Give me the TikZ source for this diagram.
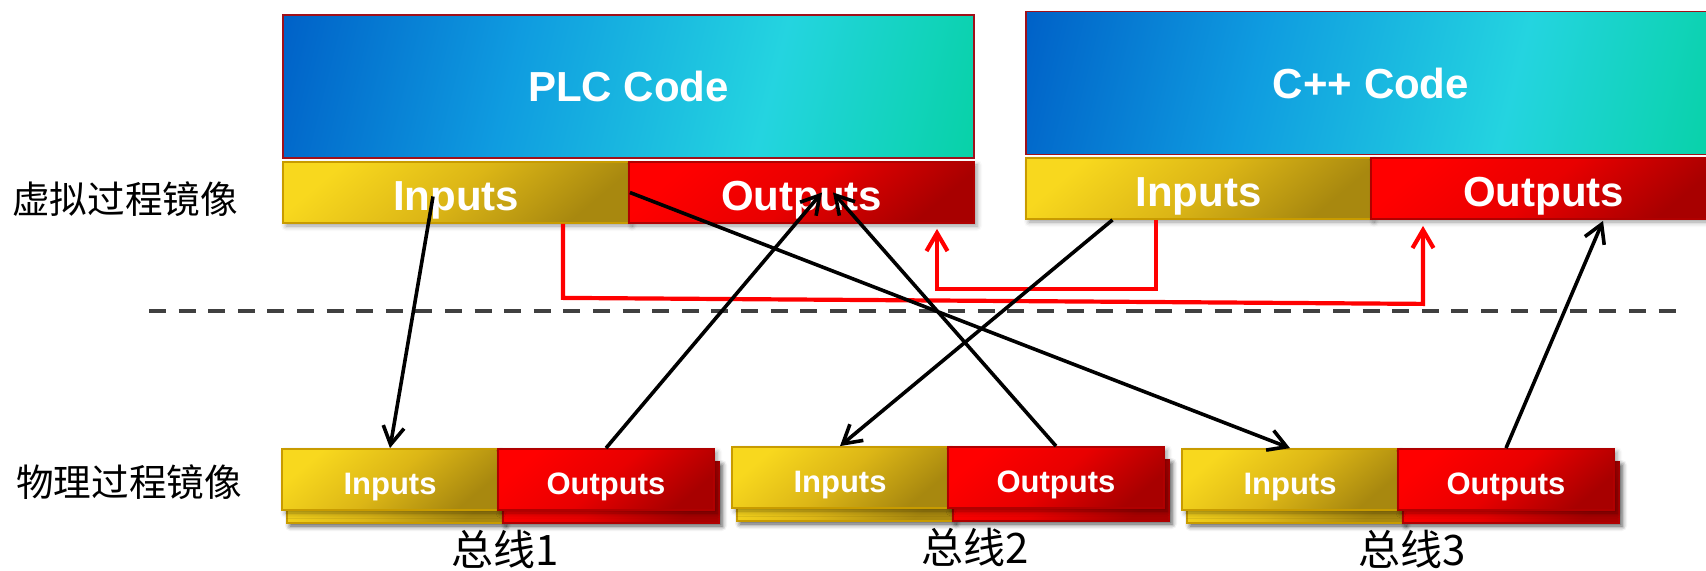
\documentclass[tikz,border=0pt]{standalone}
\usepackage{fontspec}
\setmainfont{Liberation Sans}
\newfontfamily\cjk{Noto Sans CJK SC}
\usetikzlibrary{arrows.meta,shadows.blur,calc}

\definecolor{codeA}{HTML}{0062C8}
\definecolor{codeB}{HTML}{0F9CE0}
\definecolor{codeC}{HTML}{24D4E0}
\definecolor{codeD}{HTML}{08D2A8}
\definecolor{codeline}{HTML}{A0101A}
\definecolor{inA}{HTML}{F8D81E}
\definecolor{inB}{HTML}{DCB616}
\definecolor{inC}{HTML}{A8880F}
\definecolor{inline}{HTML}{C89B00}
\definecolor{outA}{HTML}{FF0000}
\definecolor{outB}{HTML}{E80000}
\definecolor{outC}{HTML}{A80000}
\definecolor{outline}{HTML}{B00000}
\definecolor{sepgray}{HTML}{404040}

% diagonal blue-to-teal gradient of the code blocks
\pgfdeclareverticalshading{codeshade}{100bp}{color(0bp)=(codeD); color(20bp)=(codeD); color(38bp)=(codeC); color(60bp)=(codeB); color(80bp)=(codeA); color(100bp)=(codeA)}

\begin{document}
\begin{tikzpicture}[x=0.5pt, y=-0.5pt,
  softshadow/.style={blur shadow={shadow xshift=1.5pt, shadow yshift=-1.5pt, shadow blur radius=2.5pt, shadow opacity=40}},
  codebox/.style={draw=codeline, line width=0.9pt, shade, shading=codeshade, shading angle=76,
    text=white, font=\bfseries\fontsize{21}{25}\selectfont, inner sep=0pt, minimum height=71.5pt},
  inbox/.style={draw=inline, line width=0.9pt, top color=inA, bottom color=inC, middle color=inB, shading angle=40,
    text=white, font=\bfseries\fontsize{21}{25}\selectfont, inner sep=0pt, minimum height=30.5pt,
    text height=18pt, text depth=0pt, softshadow},
  outbox/.style={draw=outline, line width=0.9pt, top color=outA, bottom color=outC, middle color=outB, shading angle=40,
    text=white, font=\bfseries\fontsize{21}{25}\selectfont, inner sep=0pt, minimum height=30.5pt,
    text height=18pt, text depth=0pt, softshadow},
  busin/.style={inbox, font=\bfseries\fontsize{15.5}{18}\selectfont, minimum width=108pt, text height=14.6pt},
  busout/.style={outbox, font=\bfseries\fontsize{15.5}{18}\selectfont, minimum width=108pt, text height=14.6pt},
  sidelabel/.style={font=\cjk\fontsize{18.8}{22}\selectfont, inner sep=0pt},
  buslabel/.style={font=\cjk\fontsize{21}{24}\selectfont, inner sep=0pt},
  conn/.style={line width=1.8pt, -{Straight Barb[length=9pt,width=10.5pt]}},
  redconn/.style={draw=red, line width=2.1pt, -{Straight Barb[length=9pt,width=10.5pt]}},
  sep/.style={draw=sepgray, line width=2pt, dash pattern=on 8.5pt off 6.3pt}]

\useasboundingbox (0,0) rectangle (1706,571);

% boundary between the virtual and the physical image
\coordinate (sepL) at (149,311);
\coordinate (sepR) at (1681,311);
\draw[sep] (sepL) -- (sepR);

% row labels
\node[sidelabel] (virt) at (125,199) {虚拟过程镜像};
\node[sidelabel] (phys) at (129,482) {物理过程镜像};

% PLC program with its process image
\node[codebox, minimum width=345.5pt] (plc) at (628.5,86.5) {PLC Code};
\node[inbox, minimum width=173pt] (plcin) at (456,192.5) {Inputs};
\node[outbox, minimum width=172.5pt] (plcout) at (801.5,192.5) {Outputs};

% C++ program with its process image
\node[codebox, minimum width=345pt] (cpp) at (1371,83) {C++ Code};
\node[inbox, minimum width=172.5pt] (cppin) at (1198.5,188.5) {Inputs};
\node[outbox, minimum width=172.5pt] (cppout) at (1543.5,188.5) {Outputs};

% field buses: stacked input / output cards
\foreach \n/\x/\y/\lx in {1/390/479.5/505, 2/840/477.5/975, 3/1290/479.5/1412} {
  \node[busin, softshadow] (inback\n) at (\x+5,\y+13) {};
  \node[busout, softshadow] (outback\n) at (\x+221,\y+13) {};
  \node[busin] (in\n) at (\x,\y) {Inputs};
  \node[busout] (out\n) at (\x+216,\y) {Outputs};
  \node[buslabel] (bus\n) at (\lx,\y+70) {总线\n};
}

% red links between the two process images
\draw[redconn] ($(plcin.south)+(107,0)$) -- ++(0,74)
  -- ($(cppout.south)+(-120.5,84)$) -- ($(cppout.south)+(-120.5,6)$);
\draw[redconn] ($(cppin.south)+(-42.5,0)$) -- ++(0,69)
  -- ($(plcout.south)+(135.5,65)$) -- ($(plcout.south)+(135.5,5)$);

% mapping between the process images and the buses
\draw[conn] ($(plcin.center)+(-23,4)$) -- (in1.north);
\draw[conn] (out1.north) -- ($(plcout.center)+(20.5,0)$);
\draw[conn] (out2.north) -- ($(plcout.center)+(31.5,0)$);
\draw[conn] (plcin.east) -- (in3.north);
\draw[conn] ($(cppin.south)+(-86,0)$) -- (in2.north);
\draw[conn] (out3.north) -- ($(cppout.south)+(59.5,1)$);
\end{tikzpicture}
\end{document}
